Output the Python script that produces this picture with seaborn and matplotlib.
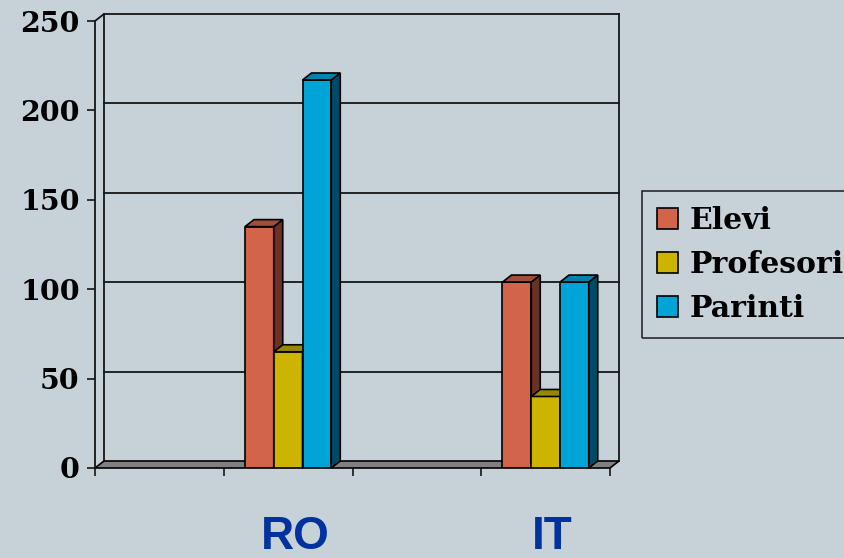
import matplotlib
matplotlib.use("Agg")
import matplotlib.pyplot as plt
import matplotlib.transforms as mtransforms
from matplotlib.patches import Polygon, Patch
import seaborn as sns
import pandas as pd
import numpy as np

# chart data
slots = ["", "RO", " ", "IT"]          # x slots (two empty slots in the original)
groups = ["RO", "IT"]
series = ["Elevi", "Profesori", "Parinti"]
elevi = [135, 104]
profesori = [65, 40]
parinti = [217, 104]
yticks = [0, 50, 100, 150, 200, 250]

front_cols = ["#D2644A", "#CDB400", "#00A4D6"]
side_cols = ["#6B3125", "#665A00", "#004C66"]
top_cols = ["#A04E3A", "#9A8700", "#0082AA"]
bg = "#C6D1D8"

df = pd.DataFrame({
    "region": groups * 3,
    "serie": [s for s in series for _ in groups],
    "value": elevi + profesori + parinti,
})

fig = plt.figure(figsize=(8.44, 5.58), dpi=100, facecolor=bg)
ax = fig.add_axes([95 / 844, 90 / 558, 515 / 844, 447 / 558])
ax.patch.set_visible(False)

sns.barplot(data=df, x="region", y="value", hue="serie", order=slots,
            hue_order=series, palette=front_cols, width=0.67, gap=0,
            saturation=1, errorbar=None, legend=False, ax=ax)

ax.set_xlim(-0.5, 3.5)
ax.set_ylim(0, 250)

# 3d depth offset in pixels
dx, dy = 9, 7
shift = ax.transData + mtransforms.ScaledTranslation(dx / 100, dy / 100, fig.dpi_scale_trans)
ident = mtransforms.IdentityTransform()

# back wall: grid lines and border
for v in yticks[1:]:
    ax.plot([-0.5, 3.5], [v, v], color="#151515", lw=1.3, transform=shift, clip_on=False, zorder=1)
ax.plot([-0.5, -0.5], [0, 250], color="#151515", lw=1.3, transform=shift, clip_on=False, zorder=1)
ax.plot([3.5, 3.5], [0, 250], color="#151515", lw=1.3, transform=shift, clip_on=False, zorder=1)


def to_disp(x, y):
    return ax.transData.transform((x, y))


off = np.array([dx, dy])

# top-left side-wall edge
p0 = to_disp(-0.5, 250)
ax.add_patch(Polygon([p0, p0 + off], closed=False, fill=False, edgecolor="#151515",
                     lw=1.3, transform=ident, clip_on=False))

# floor
a, b = to_disp(-0.5, 0), to_disp(3.5, 0)
ax.add_patch(Polygon([a, b, b + off, a + off], facecolor="#808080", edgecolor="black",
                     lw=1.2, transform=ident, clip_on=False, zorder=2))

# bars with side and top faces
bars = [p for p in ax.patches if isinstance(p, matplotlib.patches.Rectangle)
        and np.isfinite(p.get_height()) and p.get_height() > 0]
bars = sorted(bars, key=lambda p: p.get_x())
hexes = [c.upper() for c in front_cols]
for i, bar in enumerate(bars):
    k = hexes.index(matplotlib.colors.to_hex(bar.get_facecolor()).upper())
    z = 3 + i
    bar.set_edgecolor("black")
    bar.set_linewidth(1.2)
    bar.set_zorder(z)
    x0, x1 = bar.get_x(), bar.get_x() + bar.get_width()
    h = bar.get_height()
    br, tl, tr = to_disp(x1, 0), to_disp(x0, h), to_disp(x1, h)
    ax.add_patch(Polygon([br, br + off, tr + off, tr], facecolor=side_cols[k], edgecolor="black",
                         lw=1.2, transform=ident, clip_on=False, zorder=z + 0.5))
    ax.add_patch(Polygon([tl, tr, tr + off, tl + off], facecolor=top_cols[k], edgecolor="black",
                         lw=1.2, transform=ident, clip_on=False, zorder=z + 0.5))

# axes styling
for s in ["top", "right", "bottom"]:
    ax.spines[s].set_visible(False)
ax.spines["left"].set_color("#151515")
ax.spines["left"].set_linewidth(1.3)
ax.set_xlabel("")
ax.set_ylabel("")

ax.set_yticks(yticks)
ax.set_yticklabels([str(v) for v in yticks], fontfamily="DejaVu Serif", fontweight="bold", fontsize=20.5)
ax.tick_params(axis="y", direction="out", length=6, width=1.2, pad=5, color="#151515")

ax.set_xticks(range(len(slots)))
ax.set_xticklabels(slots, fontfamily="Liberation Sans", fontweight="bold", fontsize=33, color="#0033A0")
ax.set_xticks(np.arange(-0.5, len(slots), 1.0), minor=True)
ax.tick_params(axis="x", which="major", length=0, pad=34)
ax.tick_params(axis="x", which="minor", direction="out", length=6, width=1.2, color="#151515")
for lab in ax.get_xticklabels():
    lab.set_transform(lab.get_transform() + mtransforms.ScaledTranslation(0.07, 0, fig.dpi_scale_trans))

handles = [Patch(facecolor=c, edgecolor="black", lw=1.2) for c in front_cols]
leg = fig.legend(handles, series, loc="upper left", bbox_to_anchor=(642 / 844, 1 - 191 / 558),
                 borderaxespad=0, frameon=True, fancybox=False, edgecolor="black",
                 facecolor="none", handlelength=0.7, handleheight=0.7, handletextpad=0.4,
                 labelspacing=0.5, borderpad=0.5,
                 prop={"family": "DejaVu Serif", "weight": "bold", "size": 21.5})
leg.get_frame().set_linewidth(1.2)

fig.savefig("out.png", dpi=100, facecolor=bg)
